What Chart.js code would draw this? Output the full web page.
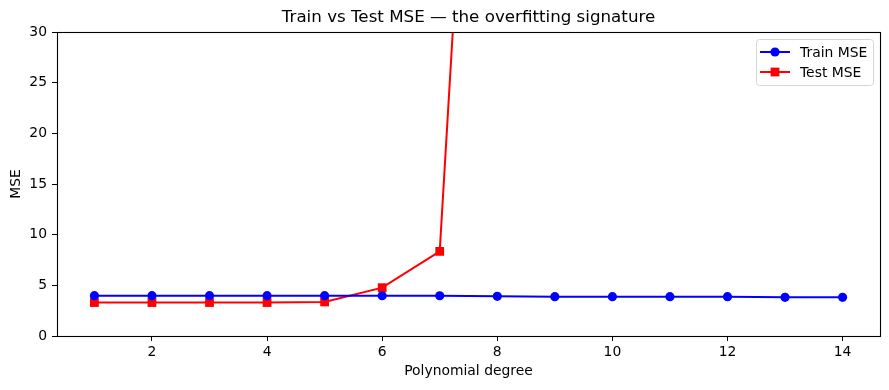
<!DOCTYPE html>
<html>
<head>
<meta charset="UTF-8">
<script src="https://cdn.jsdelivr.net/npm/chart.js"></script>
<style>
  html, body { margin: 0; padding: 0; background: #fff; }
  #wrap { width: 889px; height: 390px; }
</style>
</head>
<body>
<div id="wrap"><canvas id="myChart" width="889" height="390"></canvas></div>
<script>
  // data
  const degrees = [1, 2, 3, 4, 5, 6, 7, 8, 9, 10, 11, 12, 13, 14];
  const trainMse = [3.98, 3.98, 3.98, 3.98, 3.98, 3.97, 3.97, 3.92, 3.88, 3.88, 3.88, 3.88, 3.82, 3.82];
  const testMse = [3.3, 3.3, 3.3, 3.3, 3.36, 4.77, 8.35, 104, 420, 1500, 3800, 9000, 21000, 46000];
  const xTicks = [2, 4, 6, 8, 10, 12, 14];
  const yTicks = [0, 5, 10, 15, 20, 25, 30];

  const FONT = "'DejaVu Sans', sans-serif";

  function toPoints(ys) {
    return degrees.map((d, i) => ({ x: d, y: ys[i] }));
  }

  // box around plot, title and legend inside the axes
  const boxPlugin = {
    id: 'box',
    afterDraw(chart) {
      const ctx = chart.ctx;
      const a = chart.chartArea;
      ctx.save();
      ctx.strokeStyle = '#000';
      ctx.lineWidth = 1.1;
      ctx.strokeRect(Math.round(a.left) + 0.5, Math.round(a.top) + 0.5,
        Math.round(a.right - a.left), Math.round(a.bottom - a.top));

      // title
      ctx.fillStyle = '#000';
      ctx.font = '16.7px ' + FONT;
      ctx.textAlign = 'center';
      ctx.textBaseline = 'middle';
      ctx.fillText('Train vs Test MSE \u2014 the overfitting signature', (a.left + a.right) / 2, 18);

      // legend
      const bx = 756, by = a.top + 7, bw = 117, bh = 46;
      ctx.fillStyle = 'rgba(255,255,255,0.8)';
      ctx.strokeStyle = '#d6d6d6';
      ctx.lineWidth = 1;
      ctx.beginPath();
      ctx.roundRect(bx + 0.5, by + 0.5, bw, bh, 3);
      ctx.fill();
      ctx.stroke();
      chart.data.datasets.forEach((ds, i) => {
        const y = by + 13 + i * 20;
        ctx.strokeStyle = ds.borderColor;
        ctx.lineWidth = ds.borderWidth;
        ctx.beginPath();
        ctx.moveTo(bx + 4, y);
        ctx.lineTo(bx + 34, y);
        ctx.stroke();
        ctx.fillStyle = ds.borderColor;
        Chart.helpers.drawPoint(ctx, { pointStyle: ds.pointStyle, radius: ds.pointRadius, borderWidth: 0 }, bx + 19, y);
        ctx.fillStyle = '#000';
        ctx.font = '13.9px ' + FONT;
        ctx.textAlign = 'left';
        ctx.fillText(ds.label, bx + 44, y + 1);
      });
      ctx.restore();
    }
  };

  new Chart(document.getElementById('myChart'), {
    type: 'line',
    data: {
      datasets: [{
        label: 'Train MSE',
        data: toPoints(trainMse),
        borderColor: '#0000ff',
        backgroundColor: '#0000ff',
        borderWidth: 2,
        pointStyle: 'circle',
        pointRadius: 4.6,
        pointBorderWidth: 0
      }, {
        label: 'Test MSE',
        data: toPoints(testMse),
        borderColor: '#ff0000',
        backgroundColor: '#ff0000',
        borderWidth: 2,
        pointStyle: 'rect',
        pointRadius: 6.2,
        pointBorderWidth: 0
      }]
    },
    options: {
      responsive: false,
      animation: false,
      layout: { padding: { top: 32, right: 9, left: 0, bottom: 0 } },
      plugins: {
        legend: { display: false },
        title: { display: false },
        tooltip: { enabled: false }
      },
      scales: {
        x: {
          type: 'linear',
          min: 0.35,
          max: 14.65,
          afterBuildTicks: s => { s.ticks = xTicks.map(v => ({ value: v })); },
          afterFit: s => { s.height = 54; },
          grid: { display: true, drawOnChartArea: false, drawTicks: true, tickLength: 5, color: '#000' },
          border: { display: false },
          ticks: { color: '#000', font: { family: FONT, size: 13.9 }, padding: 3, maxRotation: 0 },
          title: { display: true, text: 'Polynomial degree', color: '#000', font: { family: FONT, size: 13.9 }, padding: { top: 10, bottom: 10 } }
        },
        y: {
          min: 0,
          max: 30,
          afterBuildTicks: s => { s.ticks = yTicks.map(v => ({ value: v })); },
          afterFit: s => { s.width = 57; },
          grid: { display: true, drawOnChartArea: false, drawTicks: true, tickLength: 5, color: '#000' },
          border: { display: false },
          ticks: { color: '#000', font: { family: FONT, size: 13.9 }, padding: 5 },
          title: { display: true, text: 'MSE', color: '#000', font: { family: FONT, size: 13.9 }, padding: { top: 8, bottom: 8 } }
        }
      }
    },
    plugins: [boxPlugin]
  });
</script>
</body>
</html>
